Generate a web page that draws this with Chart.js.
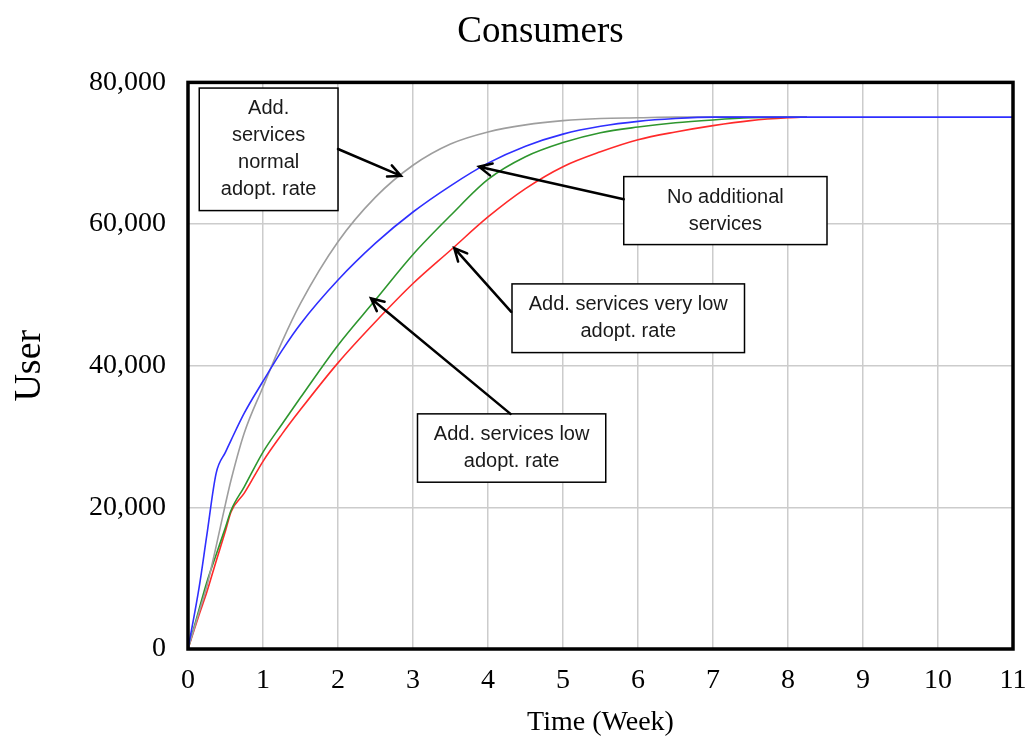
<!DOCTYPE html>
<html>
<head>
<meta charset="utf-8">
<title>Consumers</title>
<script src="https://cdn.jsdelivr.net/npm/chart.js@4.4.1/dist/chart.umd.min.js"></script>
<style>
  html, body { margin: 0; padding: 0; background: #fff; }
  #wrap { width: 1032px; height: 749px; position: relative; }
</style>
</head>
<body>
<div id="wrap"><canvas id="grafico"></canvas></div>
<script>
// time axis (weeks) shared by all runs
let weeks = [0, 0.15, 0.25, 0.375, 0.5, 0.575, 0.75, 1, 1.25, 1.5, 2, 2.5, 3, 3.5, 4, 4.5, 5, 5.5, 6, 6.5, 7, 7.5, 8, 8.25, 9, 10, 11];

// users per run (null = run not drawn there)
let noAdditional = [0, 8800, 16000, 24800, 27800, 29500, 33300, 37800, 42100, 45900, 52100, 57300, 61700, 65400, 68600, 71000, 72700, 73800, 74500, 74900, 75100, 75100, 75100, 75100, 75100, 75100, 75100];
let normalRate   = [0, 5300, 8800, 14500, 20500, 23900, 30500, 37000, 43300, 48800, 57500, 63800, 68300, 71300, 73000, 74000, 74600, 74900, 75000, 75100, 75100, 75100, 75100, 75100, null, null, null];
let lowRate      = [0, 5700, 9400, 13300, 17200, 19600, 22900, 27800, 31700, 35500, 42900, 49300, 55700, 61200, 66300, 69500, 71500, 72900, 73700, 74300, 74700, 75000, 75100, 75100, null, null, null];
let veryLowRate  = [0, 4900, 8000, 12400, 16700, 19400, 22000, 26500, 30300, 33800, 40400, 46200, 51600, 56300, 61000, 65000, 68100, 70200, 71900, 73000, 73900, 74600, 75000, 75100, null, null, null];

let yTicks = [0, 20000, 40000, 60000, 80000];
let xTicks = [0, 1, 2, 3, 4, 5, 6, 7, 8, 9, 10, 11];

// callouts, placed in data units
let notas = [
  { lines: ['Add.', 'services', 'normal', 'adopt. rate'], box: [0.15, 79200, 2.0, 61900], from: [2.0, 70600], to: [2.84, 66800] },
  { lines: ['No additional', 'services'], box: [5.81, 66700, 8.52, 57100], from: [5.81, 63500], to: [3.88, 68100] },
  { lines: ['Add. services very low', 'adopt. rate'], box: [4.32, 51550, 7.42, 41850], from: [4.31, 47600], to: [3.55, 56600] },
  { lines: ['Add. services low', 'adopt. rate'], box: [3.06, 33200, 5.57, 23550], from: [4.30, 33200], to: [2.44, 49500] }
];

function pontos(vals) {
  return weeks.map(function (t, i) { return { x: t, y: vals[i] }; });
}

let moldura = {
  id: 'moldura',
  afterDatasetsDraw(chart) {
    let a = chart.chartArea;
    let ctx = chart.ctx;
    ctx.save();
    ctx.strokeStyle = '#000';
    ctx.lineWidth = 3.5;
    ctx.strokeRect(a.left, a.top, a.right - a.left, a.bottom - a.top);
    ctx.restore();
  }
};

let caixas = {
  id: 'caixas',
  afterDraw(chart) {
    let ctx = chart.ctx;
    let sx = chart.scales.x;
    let sy = chart.scales.y;
    ctx.save();
    notas.forEach(function (n) {
      let x1 = sx.getPixelForValue(n.box[0]);
      let y1 = sy.getPixelForValue(n.box[1]);
      let x2 = sx.getPixelForValue(n.box[2]);
      let y2 = sy.getPixelForValue(n.box[3]);
      ctx.fillStyle = '#fff';
      ctx.fillRect(x1, y1, x2 - x1, y2 - y1);
      ctx.strokeStyle = '#000';
      ctx.lineWidth = 1.5;
      ctx.strokeRect(x1, y1, x2 - x1, y2 - y1);

      ctx.fillStyle = '#1a1a1a';
      ctx.font = '20px "Liberation Sans", Arial, sans-serif';
      ctx.textAlign = 'center';
      ctx.textBaseline = 'middle';
      let gap = 27;
      let cy = (y1 + y2) / 2 - gap * (n.lines.length - 1) / 2;
      n.lines.forEach(function (l, i) {
        ctx.fillText(l, (x1 + x2) / 2, cy + i * gap);
      });

      // arrow
      let fx = sx.getPixelForValue(n.from[0]);
      let fy = sy.getPixelForValue(n.from[1]);
      let tx = sx.getPixelForValue(n.to[0]);
      let ty = sy.getPixelForValue(n.to[1]);
      let ang = Math.atan2(ty - fy, tx - fx);
      ctx.strokeStyle = '#000';
      ctx.lineWidth = 2.5;
      ctx.lineCap = 'round';
      ctx.beginPath();
      ctx.moveTo(fx, fy);
      ctx.lineTo(tx, ty);
      ctx.moveTo(tx - 14 * Math.cos(ang - 0.45), ty - 14 * Math.sin(ang - 0.45));
      ctx.lineTo(tx, ty);
      ctx.lineTo(tx - 14 * Math.cos(ang + 0.45), ty - 14 * Math.sin(ang + 0.45));
      ctx.stroke();
    });
    ctx.restore();
  }
};

Chart.defaults.font.family = '"Liberation Serif", "Times New Roman", serif';
Chart.defaults.color = '#000';

let ctx = document.getElementById('grafico');
let chartgraph = new Chart(ctx, {
  type: 'line',
  data: {
    datasets: [
      { label: 'No additional services', data: pontos(noAdditional), borderColor: '#2f2fff', order: 0 },
      { label: 'Add. services normal adopt. rate', data: pontos(normalRate), borderColor: '#9e9e9e', order: 1 },
      { label: 'Add. services low adopt. rate', data: pontos(lowRate), borderColor: '#2e962e', order: 2 },
      { label: 'Add. services very low adopt. rate', data: pontos(veryLowRate), borderColor: '#ff2a2a', order: 3 }
    ]
  },
  options: {
    responsive: true,
    maintainAspectRatio: false,
    animation: false,
    layout: { padding: { left: 68, right: 19, top: 0, bottom: 0 } },
    elements: {
      point: { radius: 0 },
      line: { borderWidth: 1.6, cubicInterpolationMode: 'monotone', fill: false }
    },
    plugins: {
      legend: { display: false },
      tooltip: { enabled: false },
      title: {
        display: true,
        text: 'Consumers',
        font: { size: 37, weight: 'normal' },
        color: '#000',
        padding: { top: 10, bottom: 28 }
      }
    },
    scales: {
      x: {
        type: 'linear',
        min: 0,
        max: 11,
        afterBuildTicks(scale) { scale.ticks = xTicks.map(function (v) { return { value: v }; }); },
        afterFit(scale) { scale.height = 100; scale.paddingRight = 0; scale.paddingLeft = 0; },
        grid: { color: '#cccccc', lineWidth: 1.5, drawTicks: false },
        border: { display: false },
        ticks: { font: { size: 28 }, padding: 15, maxRotation: 0 },
        title: { display: true, text: 'Time (Week)', font: { size: 28 }, padding: { top: 0, bottom: 10 } }
      },
      y: {
        min: 0,
        max: 80000,
        afterBuildTicks(scale) { scale.ticks = yTicks.map(function (v) { return { value: v }; }); },
        afterFit(scale) { scale.width = 120; },
        grid: { color: '#cccccc', lineWidth: 1.5, drawTicks: false },
        border: { display: false },
        ticks: {
          font: { size: 28 },
          padding: 22,
          callback: function (v) { return v.toLocaleString('en-US'); }
        },
        title: { display: true, text: 'User', font: { size: 38 }, padding: { top: -61, bottom: 0 } }
      }
    }
  },
  plugins: [moldura, caixas]
});
</script>
</body>
</html>
